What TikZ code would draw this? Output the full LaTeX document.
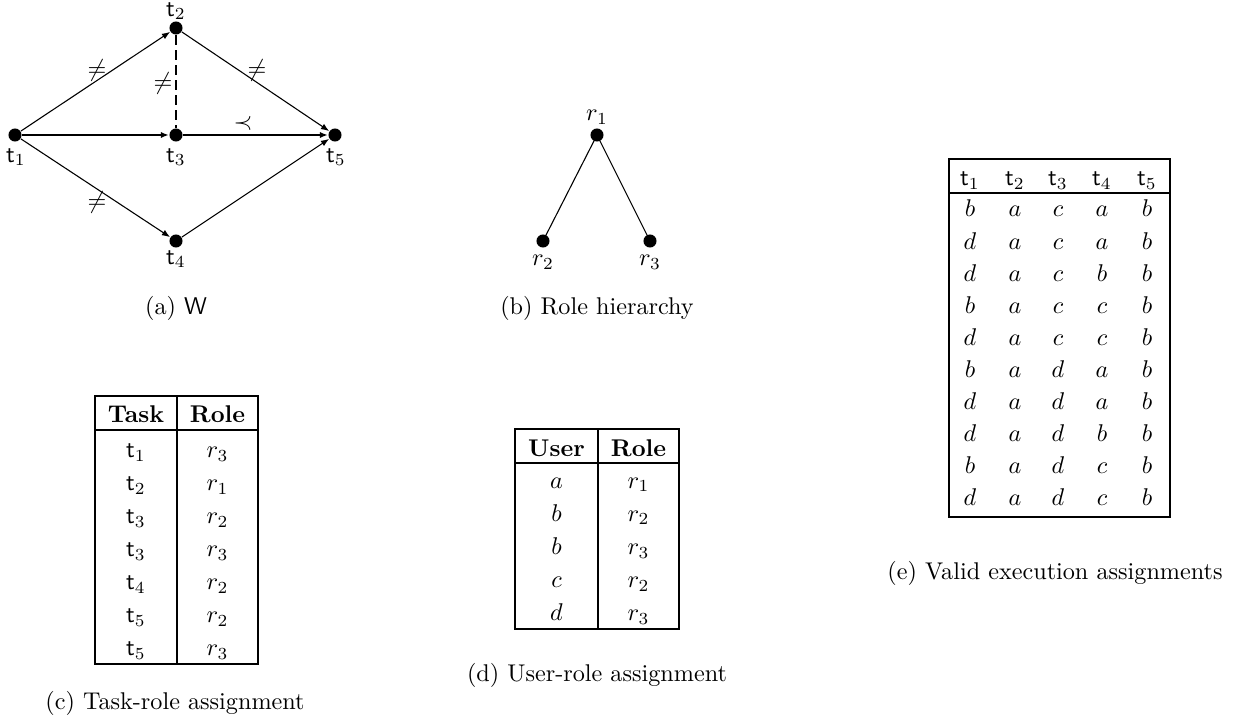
\documentclass[tikz,border=0pt]{standalone}
\usetikzlibrary{arrows.meta}
\begin{document}
\begin{tikzpicture}[x=0.41322pt,y=-0.41322pt,
  dot/.style={circle,fill=black,inner sep=0pt,minimum size=5.4pt},
  lbl/.style={inner sep=0pt},
  arr/.style={-{Latex[length=3.4pt,width=2.6pt]},line width=0.45pt},
  mainarr/.style={arr,line width=0.9pt},
  dashline/.style={line width=0.9pt,dash pattern=on 4pt off 2.2pt},
  tree/.style={line width=0.45pt},
  tbl/.style={line width=0.8pt},
  cell/.style={anchor=base,inner sep=0pt},
  captxt/.style={inner sep=0pt}]
\useasboundingbox (0,0) rectangle (1240,722);

% ---------- (a) W ----------
\node[dot] (t1) at (15,135) {};
\node[dot] (t2) at (176,28) {};
\node[dot] (t3) at (176,135) {};
\node[dot] (t4) at (176,241) {};
\node[dot] (t5) at (335,135) {};
\node[lbl] (lt1) at (16,157) {$\mathsf{t}_1$};
\node[lbl] (lt2) at (176,11) {$\mathsf{t}_2$};
\node[lbl] (lt3) at (176,157) {$\mathsf{t}_3$};
\node[lbl] (lt4) at (176,259) {$\mathsf{t}_4$};
\node[lbl] (lt5) at (336,157) {$\mathsf{t}_5$};
\draw[arr] (t1) -- (t2);
\draw[arr] (t1) -- (t4);
\draw[arr] (t2) -- (t5);
\draw[arr] (t4) -- (t5);
\draw[mainarr] (t1) -- (t3);
\draw[mainarr] (t3) -- (t5);
\draw[dashline] (t2) -- (t3);
\node[lbl] (ne12) at (97,70) {$\neq$};
\node[lbl] (ne23) at (163,83) {$\neq$};
\node[lbl] (ne25) at (257,70) {$\neq$};
\node[lbl] (pr35) at (243,123) {$\prec$};
\node[lbl] (ne14) at (97,202) {$\neq$};
\node[captxt] (capa) at (176,308) {(a) \textsf{W}};

% ---------- (b) Role hierarchy ----------
\node[dot] (r1) at (597,135) {};
\node[dot] (r2) at (543,241) {};
\node[dot] (r3) at (650,241) {};
\draw[tree] (r1.center) -- (r2.center);
\draw[tree] (r1.center) -- (r3.center);
\node[lbl] (lr1) at (597,117) {$r_1$};
\node[lbl] (lr2) at (543,262) {$r_2$};
\node[lbl] (lr3) at (650,262) {$r_3$};
\node[captxt] (capb) at (597,308) {(b) Role hierarchy};

% ---------- (c) Task-role assignment ----------
\draw[tbl] (95,396) rectangle (258,664);
\draw[tbl] (177,396) -- (177,664);
\draw[tbl] (95,430) -- (258,430);
\node[cell] (ch1) at (136,422) {\textbf{Task}};
\node[cell] (ch2) at (217.5,422) {\textbf{Role}};
\foreach \t/\r [count=\k from 0] in {1/3,2/1,3/2,3/3,4/2,5/2,5/3}{
  \node[cell] (ct\k) at (136,{457.5+33*\k}) {$\mathsf{t}_\t$};
  \node[cell] (cr\k) at (217.5,{457.5+33*\k}) {$r_\r$};
}
\node[captxt] (capc) at (175,703) {(c) Task-role assignment};

% ---------- (d) User-role assignment ----------
\draw[tbl] (515,429) rectangle (679,629);
\draw[tbl] (598,429) -- (598,629);
\draw[tbl] (515,463) -- (679,463);
\node[cell] (dh1) at (556.5,456) {\textbf{User}};
\node[cell] (dh2) at (638.5,456) {\textbf{Role}};
\foreach \u/\r [count=\k from 0] in {a/1,b/2,b/3,c/2,d/3}{
  \node[cell] (du\k) at (556.5,{488+33.2*\k}) {$\u$};
  \node[cell] (dr\k) at (638.5,{488+33.2*\k}) {$r_\r$};
}
\node[captxt] (capd) at (597,675) {(d) User-role assignment};

% ---------- (e) Valid execution assignments ----------
\draw[tbl] (949,159) rectangle (1170,517);
\draw[tbl] (949,193) -- (1170,193);
\foreach \i/\x in {1/970,2/1015,3/1058,4/1102,5/1147}{
  \node[cell] (eh\i) at (\x,186) {$\mathsf{t}_\i$};
}
\foreach \a/\b/\c/\d/\e [count=\k from 0] in
  {b/a/c/a/b,d/a/c/a/b,d/a/c/b/b,b/a/c/c/b,d/a/c/c/b,
   b/a/d/a/b,d/a/d/a/b,d/a/d/b/b,b/a/d/c/b,d/a/d/c/b}{
  \node[cell] (ea\k) at (970,{217+32.1*\k}) {$\a$};
  \node[cell] (eb\k) at (1015,{217+32.1*\k}) {$\b$};
  \node[cell] (ec\k) at (1058,{217+32.1*\k}) {$\c$};
  \node[cell] (ed\k) at (1102,{217+32.1*\k}) {$\d$};
  \node[cell] (ee\k) at (1147,{217+32.1*\k}) {$\e$};
}
\node[captxt] (cape) at (1055,573) {(e) Valid execution assignments};
\end{tikzpicture}
\end{document}
